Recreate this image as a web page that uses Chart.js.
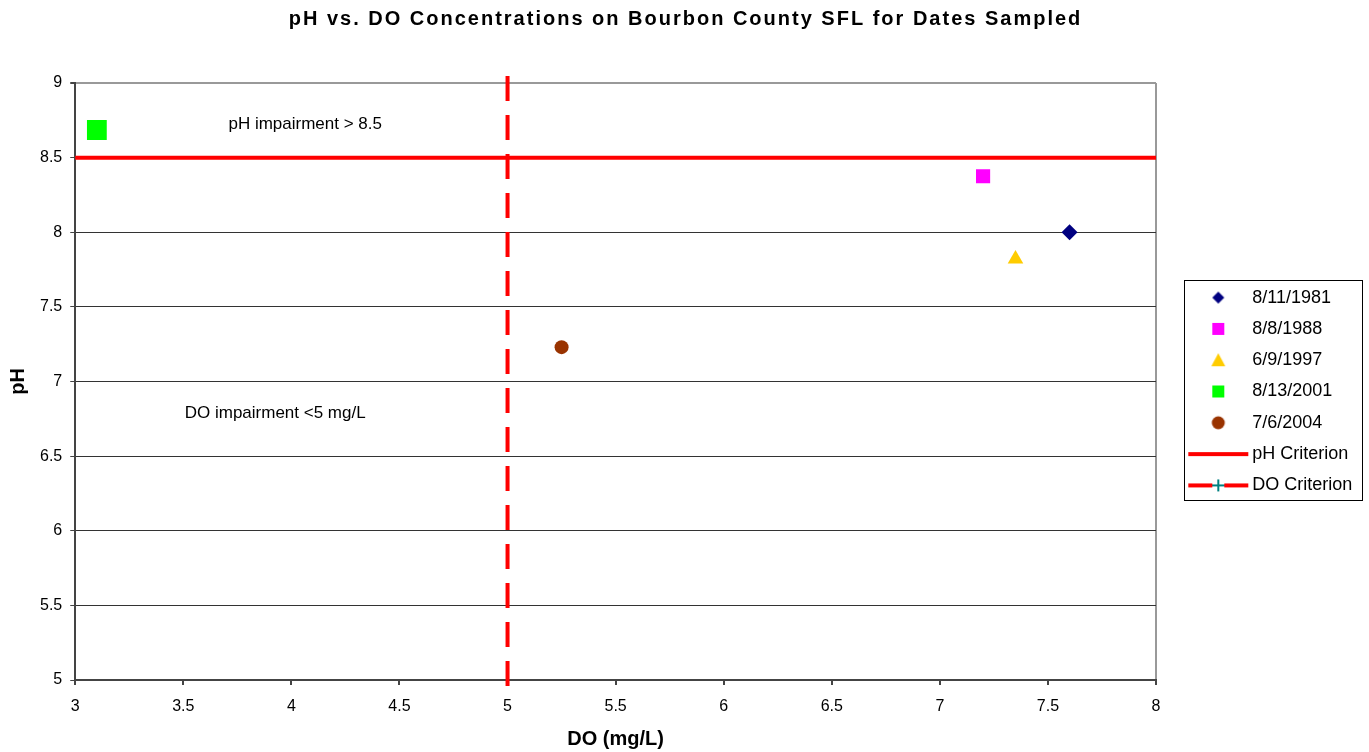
<!DOCTYPE html>
<html>
<head>
<meta charset="utf-8">
<script src="https://cdn.jsdelivr.net/npm/chart.js@4/dist/chart.umd.min.js"></script>
<style>
  html, body { margin: 0; padding: 0; background: #fff; }
  #wrap { width: 1369px; height: 752px; }
</style>
</head>
<body>
<div id="wrap"><canvas id="ph-chart" width="1369" height="752"></canvas></div>
<script>
// datos
const fechas = ['8/11/1981', '8/8/1988', '6/9/1997', '8/13/2001', '7/6/2004'];
const valoresDO = [7.6, 7.2, 7.35, 3.1, 5.25];
const valoresPH = [8.0, 8.375, 7.82, 8.685, 7.23];
const colores = ['#000080', '#ff00ff', '#ffcc00', '#00ff00', '#993300'];
const estilos = ['rectRot', 'rect', 'triangle', 'rect', 'circle'];
const radios = [8, 10, 9, 14, 7];

const criterioPH = 8.5;
const criterioDO = 5;
const rangoDO = [3, 8];
const rangoPH = [4.96, 9.047];
const ticksX = [3, 3.5, 4, 4.5, 5, 5.5, 6, 6.5, 7, 7.5, 8];

const notas = [
    { texto: 'pH impairment > 8.5', x: 4.064, y: 8.72 },
    { texto: 'DO impairment <5 mg/L', x: 3.925, y: 6.79 }
];

const fuente = 'Arial, "Liberation Sans", sans-serif';

// iconos de la leyenda
function iconoLeyenda(i) {
    const c = document.createElement('canvas');
    c.width = 100; c.height = 20;
    const g = c.getContext('2d');
    const cx = 62, cy = 10;
    if (i < 5) {
        g.fillStyle = colores[i];
        g.beginPath();
        if (estilos[i] === 'rectRot') {
            g.moveTo(cx - 6, cy); g.lineTo(cx, cy - 6); g.lineTo(cx + 6, cy); g.lineTo(cx, cy + 6);
        } else if (estilos[i] === 'rect') {
            g.rect(cx - 6, cy - 6, 12, 12);
        } else if (estilos[i] === 'triangle') {
            g.moveTo(cx, cy - 7); g.lineTo(cx + 7, cy + 6); g.lineTo(cx - 7, cy + 6);
        } else {
            g.arc(cx, cy, 6.5, 0, Math.PI * 2);
        }
        g.closePath();
        g.fill();
    } else if (i === 5) {
        g.fillStyle = '#ff0000';
        g.fillRect(cx - 30, cy - 2, 60, 4);
    } else {
        g.fillStyle = '#ff0000';
        g.fillRect(cx - 30, cy - 2, 24, 4);
        g.fillRect(cx + 6, cy - 2, 24, 4);
        g.fillStyle = '#008080';
        g.fillRect(cx - 6, cy - 1, 12, 2);
        g.fillRect(cx - 1, cy - 6, 2, 12);
    }
    return c;
}

const datasets = fechas.map((f, i) => ({
    label: f,
    data: [{ x: valoresDO[i], y: valoresPH[i] }],
    pointStyle: estilos[i],
    pointRadius: radios[i],
    pointHoverRadius: radios[i],
    backgroundColor: colores[i],
    borderColor: colores[i],
    borderWidth: 0,
    showLine: false
}));

datasets.push({
    label: 'pH Criterion',
    data: [{ x: rangoDO[0], y: criterioPH }, { x: rangoDO[1], y: criterioPH }],
    showLine: true,
    borderColor: '#ff0000',
    borderWidth: 4,
    pointRadius: 0,
    clip: false
});
datasets.push({
    label: 'DO Criterion',
    data: [{ x: criterioDO, y: rangoPH[1] }, { x: criterioDO, y: rangoPH[0] }],
    showLine: true,
    borderColor: '#ff0000',
    borderWidth: 4,
    borderDash: [25, 14],
    pointRadius: 0,
    clip: false
});

// ancho fijo de la leyenda y titulo con espaciado entre letras
const ajustes = {
    id: 'ajustes',
    beforeInit(chart) {
        const fit = chart.legend.fit;
        chart.legend.fit = function () {
            fit.call(this);
            this.width = 213;
        };
        const tb = chart.titleBlock;
        const drawTitulo = tb.draw;
        tb.draw = function () {
            const c = this.ctx;
            c.save();
            c.letterSpacing = '2px';
            drawTitulo.call(this);
            c.restore();
        };
    }
};

const extras = {
    id: 'extras',
    afterDatasetsDraw(chart) {
        const ctx = chart.ctx;
        const x = chart.scales.x, y = chart.scales.y;
        ctx.save();
        ctx.fillStyle = '#000';
        ctx.font = '17px ' + fuente;
        ctx.textAlign = 'center';
        ctx.textBaseline = 'middle';
        notas.forEach(n => ctx.fillText(n.texto, x.getPixelForValue(n.x), y.getPixelForValue(n.y)));
        ctx.restore();
    },
    afterDraw(chart) {
        const hb = chart.legend.legendHitBoxes;
        if (!hb || !hb.length) return;
        const ctx = chart.ctx;
        const top = hb[0].top - 9;
        const last = hb[hb.length - 1];
        const bottom = last.top + last.height + 5;
        ctx.save();
        ctx.strokeStyle = '#000';
        ctx.lineWidth = 1;
        ctx.strokeRect(1184.5, Math.round(top) + 0.5, 178, Math.round(bottom - top));
        ctx.restore();
    }
};

const ctx = document.getElementById('ph-chart').getContext('2d');
const grafico = new Chart(ctx, {
    type: 'scatter',
    data: { datasets: datasets },
    options: {
        responsive: false,
        animation: false,
        layout: { padding: { left: 2, right: 0, top: 0, bottom: 1 } },
        plugins: {
            title: {
                display: true,
                text: 'pH vs. DO Concentrations on Bourbon County SFL for Dates Sampled',
                color: '#000',
                font: { family: fuente, size: 20, weight: 'bold' },
                padding: { top: 7, bottom: 52 }
            },
            legend: {
                position: 'right',
                title: {
                    display: true,
                    text: ' ',
                    font: { family: fuente, size: 10 },
                    padding: 10
                },
                labels: {
                    usePointStyle: true,
                    pointStyleWidth: 74,
                    padding: 13.3,
                    color: '#000',
                    font: { family: fuente, size: 18 },
                    generateLabels(chart) {
                        const items = Chart.defaults.plugins.legend.labels.generateLabels(chart);
                        items.forEach((it, i) => { it.pointStyle = iconoLeyenda(i); });
                        return items;
                    }
                }
            },
            tooltip: { enabled: false }
        },
        scales: {
            x: {
                type: 'linear',
                min: rangoDO[0],
                max: rangoDO[1],
                afterBuildTicks(axis) { axis.ticks = ticksX.map(v => ({ value: v })); },
                afterFit(axis) { axis.height = 71; },
                grid: {
                    drawOnChartArea: true,
                    color: c => c.tick && c.tick.value === 8 ? '#999999' : 'rgba(0,0,0,0)',
                    tickColor: '#444',
                    tickLength: 5,
                    lineWidth: 2
                },
                border: { color: '#444', width: 2 },
                ticks: {
                    color: '#000',
                    padding: 12,
                    font: { family: fuente, size: 16 },
                    callback: v => String(v)
                },
                title: {
                    display: true,
                    text: 'DO (mg/L)',
                    color: '#000',
                    font: { family: fuente, size: 20, weight: 'bold' },
                    padding: { top: 2, bottom: 0 }
                }
            },
            y: {
                min: 5,
                max: 9,
                ticks: {
                    stepSize: 0.5,
                    color: '#000',
                    padding: 8,
                    font: { family: fuente, size: 16 },
                    callback: v => String(v)
                },
                grid: {
                    color: c => c.tick && c.tick.value === 9 ? '#999999' : '#333333',
                    tickColor: '#444',
                    tickLength: 5,
                    lineWidth: c => c.tick && c.tick.value === 9 ? 2 : 1
                },
                border: { color: '#444', width: 2 },
                title: {
                    display: true,
                    text: 'pH',
                    color: '#000',
                    font: { family: fuente, size: 20, weight: 'bold' },
                    padding: { top: 4, bottom: 2 }
                }
            }
        }
    },
    plugins: [ajustes, extras]
});
</script>
</body>
</html>
